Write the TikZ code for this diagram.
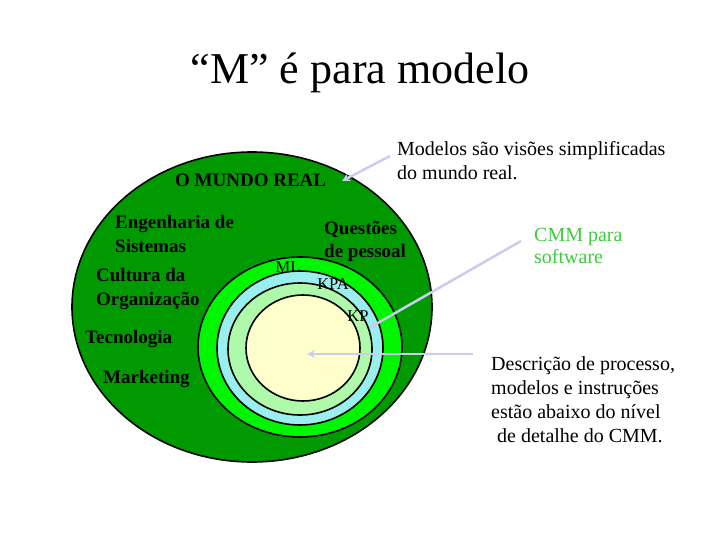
\documentclass[tikz,border=0pt]{standalone}
\usepackage{fontspec}
\setmainfont{Liberation Serif}
\usepackage{xcolor}
\usetikzlibrary{shapes.geometric,arrows,positioning}

\definecolor{mundogreen}{RGB}{0,153,0}
\definecolor{mlgreen}{RGB}{0,245,0}
\definecolor{kpacyan}{RGB}{153,238,238}
\definecolor{kpgreen}{RGB}{175,250,170}
\definecolor{corecream}{RGB}{255,255,204}
\definecolor{cmmgreen}{RGB}{60,205,60}
\definecolor{pointercol}{RGB}{204,204,240}

\begin{document}
\begin{tikzpicture}[x=1pt, y=-1pt,
    ring/.style={ellipse, draw, line width=1.6pt, inner sep=0pt},
    area/.style={anchor=base west, inner sep=0pt, align=left, font=\fontsize{19}{24}\selectfont\bfseries},
    tag/.style={anchor=base, inner sep=0pt, font=\fontsize{16.5}{18}\selectfont},
    note/.style={anchor=base west, inner sep=0pt, align=left, font=\fontsize{20}{24}\selectfont},
    pointer/.style={line width=2.5pt, ->, >=stealth, draw=pointercol}]

    \useasboundingbox (0,0) rectangle (720,540);

    % title
    \node[font=\fontsize{44}{50}\selectfont, anchor=base] (title) at (360,84) {“M” é para modelo};

    % the world and the rings of the model
    \node[ring, fill=mundogreen, minimum width=360, minimum height=310] (mundo) at (252,307) {};
    \node[ring, fill=mlgreen, minimum width=204, minimum height=180] (ml) at (300,347) {};
    \node[ring, fill=kpacyan, minimum width=166, minimum height=154] (kpa) at (300,348) {};
    \node[ring, fill=kpgreen, minimum width=144, minimum height=132] (kp) at (300,349) {};
    \node[ring, fill=corecream, minimum width=114, minimum height=106] (core) at (303,348) {};

    % labels inside the world (multi-line ones sit on their last line)
    \node[area] (mundoreal) at (175,187) {O MUNDO REAL};
    \node[area] (engenharia) at (115,252) {Engenharia de\\Sistemas};
    \node[area] (cultura) at (96,305) {Cultura da\\Organização};
    \node[area] (tecnologia) at (85,343) {Tecnologia};
    \node[area] (marketing) at (103,383) {Marketing};
    \node[area] (questoes) at (324,258) {Questões\\de pessoal};

    \node[tag] (mltag) at (288,272) {ML};
    \node[tag] (kpatag) at (333,289) {KPA};
    \node[tag] (kptag) at (358,321) {KP};

    % notes on the right
    \node[note] (modelos) at (397,180) {Modelos são visões simplificadas\\do mundo real.};
    \node[note, text=cmmgreen, font=\fontsize{20}{22}\selectfont] (cmm) at (534,263) {CMM para\\software};
    \node[note] (descricao) at (491,442) {Descrição de processo,\\modelos e instruções\\estão abaixo do nível\\\hspace{6pt}de detalhe do CMM.};

    \coordinate (modelostail) at (390,156);
    \coordinate (mundotip) at (342,181);
    \coordinate (cmmtail) at (521,241);
    \coordinate (kptip) at (369,328);
    \coordinate (descricaotail) at (473,354);
    \coordinate (coretip) at (307,354);

    \draw[pointer] (modelostail) -- (mundotip);
    \draw[pointer] (cmmtail) -- (kptip);
    \draw[pointer] (descricaotail) -- (coretip);
\end{tikzpicture}
\end{document}
